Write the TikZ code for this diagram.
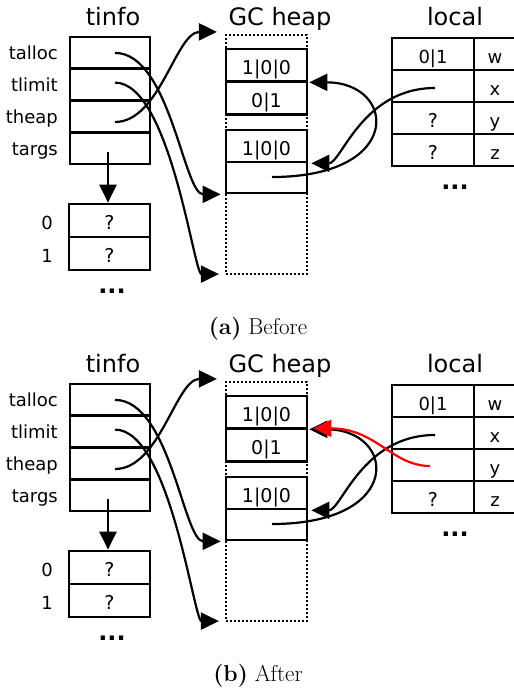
\documentclass[tikz,border=0pt]{standalone}
\usepackage{fontspec}
\setsansfont{DejaVu Sans}
\usetikzlibrary{arrows.meta,calc}

\tikzset{
  fs/.style={font=\sffamily\fontsize{#1}{#1}\selectfont},
  memcell/.style={draw, line width=2.7pt, fill=white, inner sep=0pt,
                  text height=18.6pt, text depth=0pt},
  tcell/.style={memcell, minimum width=80pt, minimum height=31.75pt},
  acell/.style={memcell, minimum width=81pt, minimum height=33pt, fs=19},
  hcell/.style={memcell, minimum width=81pt, minimum height=#1, fs=19},
  lcell/.style={memcell, minimum width=82pt, minimum height=32pt, fs=18},
  ncell/.style={memcell, minimum width=42pt, minimum height=32pt, fs=18},
  heapbox/.style={draw, line width=2.2pt, dash pattern=on 2pt off 2pt,
                  minimum width=81pt, minimum height=239pt, inner sep=0pt},
  lab/.style={fs=18, anchor=east, inner sep=0pt, text height=14pt, text depth=0pt},
  idx/.style={fs=18, inner sep=0pt, text height=17pt, text depth=0pt},
  ttl/.style={fs=24, anchor=base, inner sep=0pt},
  dts/.style={font=\sffamily\bfseries\fontsize{24}{24}\selectfont, anchor=base, inner sep=0pt},
  caption/.style={font=\fontsize{23}{27}\selectfont, anchor=base, inner sep=0pt},
  ptr/.style={line width=2.2pt, -{Triangle[length=18pt,width=17pt]}},
}

% one snapshot of thread info, GC heap and local slots
% #1 = prefix for node names, #2 = content of local slot y
\newcommand\mempanel[2]{%
  % thread info record
  \node[ttl] (#1tinfo) at (113,25) {tinfo};
  \node[tcell] (#1talloc) at (110,52.9) {};
  \node[tcell] (#1tlimit) at (110,84.6) {};
  \node[tcell] (#1theap)  at (110,116.4) {};
  \node[tcell] (#1targs)  at (110,148.1) {};
  \node[lab] (#1ltalloc) at (58,52.9)  {talloc};
  \node[lab] (#1ltlimit) at (58,84.6)  {tlimit};
  \node[lab] (#1ltheap)  at (58,116.4) {theap};
  \node[lab] (#1ltargs)  at (58,148.1) {targs};
  % argument array
  \node[acell] (#1arg0) at (109.5,220.5) {?};
  \node[acell] (#1arg1) at (109.5,253.5) {?};
  \node[idx] (#1i0) at (47,220.5) {0};
  \node[idx] (#1i1) at (47,253.5) {1};
  \node[dts] (#1tdots) at (112,293) {...};
  % GC heap with two objects
  \node[ttl] (#1gctitle) at (280,25) {GC heap};
  \node[heapbox] (#1heap) at (266.5,154.5) {};
  \node[hcell=32pt] (#1o1h) at (266.5,65)    {1|0|0};
  \node[hcell=33pt] (#1o1v) at (266.5,98)    {0|1};
  \node[hcell=32pt] (#1o2h) at (266.5,146)   {1|0|0};
  \node[hcell=31pt] (#1o2v) at (266.5,177.5) {};
  % local slots
  \node[ttl] (#1loctitle) at (455,25) {local};
  \node[lcell] (#1lw) at (433,54)  {0|1};
  \node[lcell] (#1lx) at (433,86)  {};
  \node[lcell, fs=19] (#1ly) at (433,118) {#2};
  \node[lcell, fs=19] (#1lz) at (433,150) {?};
  \node[ncell] (#1nw) at (495,54)  {w};
  \node[ncell] (#1nx) at (495,86)  {x};
  \node[ncell] (#1ny) at (495,118) {y};
  \node[ncell] (#1nz) at (495,150) {z};
  \node[dts] (#1ldots) at (455,189) {...};
  % pointers out of the thread info
  \draw[ptr] ($(#1talloc.center)+(5,0)$) .. controls +(55,0) and +(-37,0) .. ($(#1o2v.south west)+(-4,0)$);
  \draw[ptr] ($(#1tlimit.center)+(5,-2)$) .. controls +(55,0) and +(-25,0) .. ($(#1heap.south west)+(-6,-1)$);
  \draw[ptr] ($(#1theap.center)+(5,5.6)$) .. controls +(45,0) and +(-41,0) .. ($(#1heap.north west)+(-8,-2)$);
  \draw[ptr] ($(#1targs.center)+(-2,4)$) -- ($(#1arg0.north)+(-1.5,0)$);
  % pointers into the heap
  \draw[ptr] ($(#1lx.center)+(2,2)$) .. controls +(-73,0) and +(30,0) .. ($(#1o2h.south east)+(3,0)$);
  \draw[ptr] ($(#1o2v.center)+(5.5,-0.5)$) .. controls +(133,0) and +(87,0) .. ($(#1o1h.south east)+(1,0)$);
}

\begin{document}
\begin{tikzpicture}[x=1pt,y=-1pt]
\useasboundingbox (0,0) rectangle (514,689);
\mempanel{a}{?}
\node[caption] (capa) at (258,334) {\textbf{(a)} Before};
\begin{scope}[yshift=-347pt]
  \mempanel{b}{}
  % slot y now also points at the first object
  \draw[ptr, red] ($(bly.center)+(-3,1)$) .. controls +(-38,0) and +(63,0) .. ($(bo1h.south east)+(5,-1)$);
  \node[caption] (capb) at (258,334) {\textbf{(b)} After};
\end{scope}
\end{tikzpicture}
\end{document}
